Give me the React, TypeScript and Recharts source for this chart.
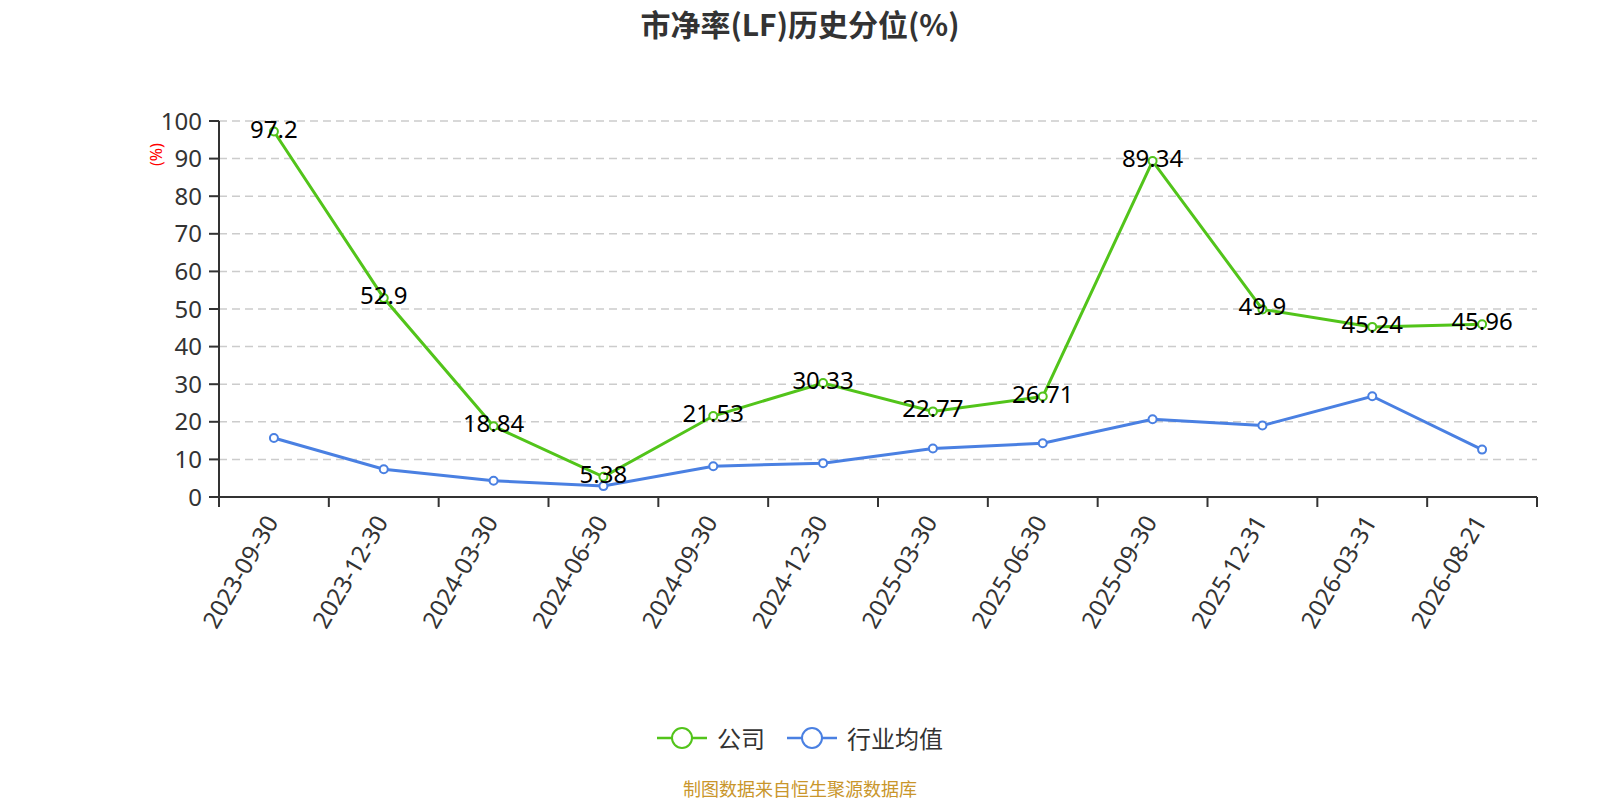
import React from "react";
import { LineChart, Line, XAxis, YAxis, CartesianGrid, LabelList } from "recharts";

const dates = [
  "2023-09-30", "2023-12-30", "2024-03-30", "2024-06-30", "2024-09-30", "2024-12-30",
  "2025-03-30", "2025-06-30", "2025-09-30", "2025-12-31", "2026-03-31", "2026-08-21",
];
const company = [97.2, 52.9, 18.84, 5.38, 21.53, 30.33, 22.77, 26.71, 89.34, 49.9, 45.24, 45.96];
const industry = [15.7, 7.4, 4.3, 2.9, 8.2, 9.0, 12.9, 14.3, 20.7, 19.0, 26.8, 12.6];
const yTicks = [0, 10, 20, 30, 40, 50, 60, 70, 80, 90, 100];
const bandTicks = [0, 1, 2, 3, 4, 5, 6, 7, 8, 9, 10, 11, 12];

const GREEN = "#52c41a";
const BLUE = "#4a80e2";
const FONT = '"Noto Sans", "Noto Sans CJK SC", sans-serif';
const CJK = '"Noto Sans CJK SC", sans-serif';

// slot = centre of each category band on a 0..12 scale (used only for boundary tick marks)
const data = dates.map((d, i) => ({ date: d, slot: i + 0.5, company: company[i], industry: industry[i] }));

const series = [
  { key: "company", name: "公司", color: GREEN },
  { key: "industry", name: "行业均值", color: BLUE },
];

const DateTick = ({ x, y, payload }: any) => {
  const ax = x - 3;
  const ay = y + 11;
  return (
    <text
      x={ax}
      y={ay}
      transform={`rotate(-60, ${ax}, ${ay})`}
      textAnchor="end"
      dominantBaseline="central"
      fontSize={24}
      fill="#333"
      fontFamily={FONT}
    >
      {payload.value}
    </text>
  );
};

const NoTick = () => <g />;

const ValueLabel = ({ x, y, value }: any) => (
  <text x={x} y={y + 6} textAnchor="middle" fontSize={24} fill="#000" fontFamily={FONT}>
    {value}
  </text>
);

const LegendBox = () => (
  <div style={{ position: "absolute", top: 722, left: 0, width: 1600, height: 32, display: "flex", justifyContent: "center", alignItems: "center", fontFamily: CJK, fontSize: 24, color: "#333" }}>
    {series.map((s, i) => (
      <div key={s.key} style={{ display: "flex", alignItems: "center", marginLeft: i === 0 ? 0 : 22 }}>
        <svg width={50} height={26}>
          <line x1={0} y1={13} x2={50} y2={13} stroke={s.color} strokeWidth={2.5} />
          <circle cx={25} cy={13} r={10} fill="#fff" stroke={s.color} strokeWidth={2} />
        </svg>
        <span style={{ marginLeft: 10, lineHeight: "26px" }}>{s.name}</span>
      </div>
    ))}
  </div>
);

export default function App() {
  return (
    <div style={{ position: "absolute", left: 0, top: 0, width: 1600, height: 800, overflow: "hidden", background: "#fff" }}>
      <div style={{ position: "absolute", top: 8, left: 0, width: 1600, lineHeight: "30px", textAlign: "center", fontSize: 30, fontWeight: "bold", color: "#333", fontFamily: CJK }}>
        市净率(LF)历史分位(%)
      </div>
      <LineChart width={1600} height={800} data={data} margin={{ top: 121, right: 63, left: 0, bottom: 0 }}>
        <CartesianGrid horizontal vertical={false} stroke="#ccc" strokeDasharray="8 5" strokeWidth={1.5} />
        <XAxis
          xAxisId="band"
          dataKey="slot"
          type="number"
          domain={[0, 12]}
          allowDataOverflow
          ticks={bandTicks}
          interval={0}
          height={1}
          tick={<NoTick />}
          tickLine={{ stroke: "#333", strokeWidth: 2 }}
          tickSize={10}
          axisLine={{ stroke: "#333", strokeWidth: 2 }}
        />
        <XAxis
          dataKey="date"
          xAxisId="cat"
          scale="band"
          interval={0}
          height={302}
          axisLine={false}
          tickLine={false}
          tick={<DateTick />}
        />
        <YAxis
          width={219}
          domain={[0, 100]}
          ticks={yTicks}
          interval={0}
          tick={{ fontSize: 24, fill: "#333", fontFamily: FONT }}
          tickLine={{ stroke: "#333", strokeWidth: 2 }}
          tickSize={10}
          tickMargin={7}
          axisLine={{ stroke: "#333", strokeWidth: 2 }}
          label={{ value: "(%)", angle: -90, position: "insideTopLeft", dx: 146, dy: 40, fill: "red", fontSize: 16, fontFamily: FONT }}
        />
        {series.map(s => (
          <Line
            key={s.key}
            xAxisId="cat"
            dataKey={s.key}
            name={s.name}
            type="linear"
            stroke={s.color}
            strokeWidth={3}
            dot={{ r: 4, fill: "#fff", stroke: s.color, strokeWidth: 2 }}
            activeDot={false}
            isAnimationActive={false}
          >
            {s.key === "company" && <LabelList dataKey="company" content={<ValueLabel />} />}
          </Line>
        ))}
      </LineChart>
      <LegendBox />
      <div style={{ position: "absolute", top: 779, left: 0, width: 1600, lineHeight: "18px", textAlign: "center", fontSize: 18, color: "#c9962b", fontFamily: CJK }}>
        制图数据来自恒生聚源数据库
      </div>
    </div>
  );
}
